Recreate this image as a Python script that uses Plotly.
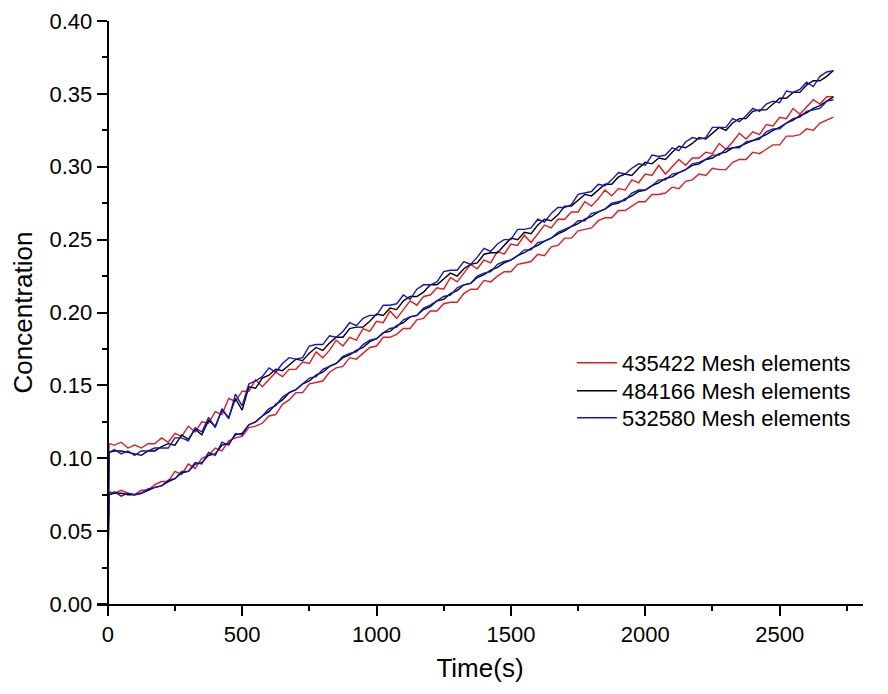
import plotly.graph_objects as go

# time grid (s)
times = [0, 5] + list(range(25, 2701, 25))

# upper monitoring curves
upper_435422 = [
    0.060, 0.110, 0.109, 0.111, 0.107, 0.109, 0.107, 0.110, 0.110, 0.114,
    0.111, 0.117, 0.115, 0.122, 0.118, 0.125, 0.124, 0.132, 0.130, 0.141,
    0.139, 0.146, 0.146, 0.154, 0.149, 0.154, 0.159, 0.156, 0.161, 0.161,
    0.166, 0.165, 0.173, 0.169, 0.174, 0.181, 0.177, 0.183, 0.181, 0.189,
    0.187, 0.194, 0.193, 0.201, 0.196, 0.202, 0.208, 0.205, 0.211, 0.212,
    0.217, 0.216, 0.224, 0.221, 0.227, 0.233, 0.230, 0.236, 0.234, 0.242,
    0.240, 0.247, 0.246, 0.253, 0.248, 0.254, 0.260, 0.258, 0.264, 0.264,
    0.269, 0.269, 0.276, 0.273, 0.278, 0.284, 0.280, 0.285, 0.284, 0.291,
    0.289, 0.295, 0.294, 0.301, 0.295, 0.300, 0.305, 0.301, 0.306, 0.306,
    0.310, 0.309, 0.316, 0.312, 0.317, 0.323, 0.319, 0.324, 0.322, 0.329,
    0.328, 0.334, 0.333, 0.340, 0.336, 0.341, 0.346, 0.343, 0.348, 0.348,
]
upper_484166 = [
    0.030, 0.104, 0.105, 0.105, 0.104, 0.103, 0.102, 0.105, 0.105, 0.108,
    0.110, 0.109, 0.116, 0.113, 0.120, 0.116, 0.126, 0.122, 0.133, 0.128,
    0.141, 0.133, 0.149, 0.148, 0.155, 0.157, 0.161, 0.160, 0.164, 0.168,
    0.167, 0.172, 0.176, 0.174, 0.179, 0.183, 0.183, 0.189, 0.190, 0.190,
    0.194, 0.199, 0.198, 0.203, 0.202, 0.208, 0.211, 0.211, 0.214, 0.219,
    0.219, 0.223, 0.227, 0.225, 0.230, 0.233, 0.234, 0.240, 0.241, 0.241,
    0.246, 0.251, 0.250, 0.255, 0.254, 0.260, 0.264, 0.263, 0.267, 0.273,
    0.273, 0.277, 0.281, 0.280, 0.284, 0.288, 0.288, 0.293, 0.295, 0.294,
    0.299, 0.303, 0.302, 0.306, 0.305, 0.310, 0.314, 0.313, 0.316, 0.320,
    0.319, 0.323, 0.327, 0.325, 0.330, 0.333, 0.333, 0.338, 0.339, 0.339,
    0.343, 0.347, 0.347, 0.351, 0.351, 0.356, 0.359, 0.359, 0.362, 0.366,
]
upper_532580 = [
    0.018, 0.104, 0.106, 0.103, 0.105, 0.102, 0.105, 0.105, 0.107, 0.107,
    0.107, 0.114, 0.114, 0.112, 0.121, 0.118, 0.128, 0.121, 0.134, 0.127,
    0.144, 0.136, 0.151, 0.153, 0.156, 0.162, 0.159, 0.165, 0.169, 0.168,
    0.169, 0.177, 0.178, 0.178, 0.184, 0.183, 0.187, 0.193, 0.191, 0.196,
    0.198, 0.198, 0.205, 0.205, 0.206, 0.212, 0.209, 0.216, 0.219, 0.219,
    0.221, 0.228, 0.229, 0.229, 0.235, 0.233, 0.238, 0.244, 0.242, 0.247,
    0.250, 0.250, 0.257, 0.257, 0.258, 0.264, 0.262, 0.268, 0.272, 0.272,
    0.274, 0.281, 0.282, 0.283, 0.288, 0.287, 0.291, 0.296, 0.295, 0.299,
    0.302, 0.301, 0.308, 0.307, 0.308, 0.313, 0.311, 0.317, 0.320, 0.319,
    0.320, 0.327, 0.327, 0.327, 0.333, 0.331, 0.335, 0.340, 0.338, 0.343,
    0.345, 0.344, 0.352, 0.351, 0.353, 0.358, 0.355, 0.362, 0.365, 0.366,
]

# lower monitoring curves
lower_435422 = [
    0.040, 0.077, 0.076, 0.078, 0.076, 0.075, 0.078, 0.078, 0.082, 0.084,
    0.084, 0.091, 0.089, 0.096, 0.093, 0.100, 0.102, 0.107, 0.105, 0.112,
    0.114, 0.115, 0.121, 0.122, 0.124, 0.129, 0.130, 0.137, 0.140, 0.145,
    0.145, 0.151, 0.152, 0.153, 0.159, 0.162, 0.163, 0.169, 0.168, 0.172,
    0.176, 0.177, 0.183, 0.183, 0.185, 0.189, 0.189, 0.195, 0.196, 0.201,
    0.201, 0.206, 0.207, 0.207, 0.213, 0.216, 0.216, 0.222, 0.221, 0.225,
    0.228, 0.228, 0.233, 0.234, 0.235, 0.240, 0.239, 0.245, 0.246, 0.251,
    0.251, 0.256, 0.257, 0.258, 0.263, 0.265, 0.265, 0.270, 0.270, 0.273,
    0.276, 0.276, 0.281, 0.281, 0.282, 0.286, 0.285, 0.290, 0.291, 0.295,
    0.294, 0.299, 0.298, 0.298, 0.303, 0.305, 0.305, 0.310, 0.309, 0.312,
    0.315, 0.315, 0.321, 0.321, 0.322, 0.326, 0.325, 0.330, 0.332, 0.334,
]
lower_484166 = [
    0.020, 0.075, 0.076, 0.076, 0.075, 0.075, 0.076, 0.078, 0.080, 0.081,
    0.084, 0.086, 0.090, 0.091, 0.096, 0.097, 0.102, 0.103, 0.109, 0.110,
    0.116, 0.117, 0.123, 0.125, 0.129, 0.132, 0.137, 0.140, 0.145, 0.147,
    0.151, 0.153, 0.157, 0.159, 0.163, 0.165, 0.169, 0.171, 0.174, 0.176,
    0.180, 0.182, 0.186, 0.187, 0.191, 0.193, 0.197, 0.198, 0.202, 0.204,
    0.208, 0.209, 0.213, 0.215, 0.219, 0.220, 0.224, 0.226, 0.229, 0.231,
    0.234, 0.236, 0.239, 0.241, 0.244, 0.246, 0.249, 0.251, 0.254, 0.256,
    0.259, 0.261, 0.264, 0.266, 0.269, 0.271, 0.274, 0.275, 0.278, 0.280,
    0.283, 0.284, 0.287, 0.289, 0.292, 0.293, 0.296, 0.298, 0.301, 0.302,
    0.305, 0.306, 0.309, 0.310, 0.313, 0.314, 0.316, 0.318, 0.320, 0.322,
    0.325, 0.327, 0.330, 0.332, 0.335, 0.337, 0.340, 0.342, 0.345, 0.348,
]
lower_532580 = [
    0.015, 0.075, 0.077, 0.074, 0.076, 0.075, 0.076, 0.079, 0.080, 0.081,
    0.085, 0.086, 0.091, 0.091, 0.097, 0.096, 0.104, 0.102, 0.111, 0.109,
    0.117, 0.116, 0.123, 0.125, 0.129, 0.134, 0.136, 0.142, 0.145, 0.147,
    0.151, 0.155, 0.156, 0.161, 0.163, 0.165, 0.170, 0.172, 0.173, 0.178,
    0.181, 0.182, 0.186, 0.189, 0.190, 0.195, 0.197, 0.198, 0.203, 0.205,
    0.208, 0.211, 0.212, 0.217, 0.219, 0.220, 0.225, 0.227, 0.228, 0.233,
    0.235, 0.236, 0.239, 0.243, 0.243, 0.248, 0.249, 0.251, 0.255, 0.257,
    0.259, 0.263, 0.263, 0.268, 0.269, 0.271, 0.275, 0.276, 0.277, 0.282,
    0.284, 0.284, 0.287, 0.291, 0.291, 0.295, 0.296, 0.298, 0.302, 0.303,
    0.305, 0.308, 0.308, 0.312, 0.313, 0.313, 0.317, 0.318, 0.319, 0.324,
    0.326, 0.326, 0.330, 0.333, 0.334, 0.338, 0.339, 0.340, 0.345, 0.346,
]

series_names = ["435422 Mesh elements", "484166 Mesh elements", "532580 Mesh elements"]
series_colors = ["#e8191e", "#000000", "#1414d0"]
upper_curves = [upper_435422, upper_484166, upper_532580]
lower_curves = [lower_435422, lower_484166, lower_532580]
legend_ids = ["legend", "legend2", "legend3"]
legend_y = [0.4134, 0.3654, 0.3190]

FONT = "Liberation Sans, Arial, sans-serif"

fig = go.Figure()
for name, color, up, lo, lg in zip(series_names, series_colors, upper_curves, lower_curves, legend_ids):
    fig.add_trace(go.Scatter(x=times, y=up, mode="lines", name=name, legendgroup=name, legend=lg,
                             line=dict(color=color, width=1.4), showlegend=True))
    fig.add_trace(go.Scatter(x=times, y=lo, mode="lines", name=name, legendgroup=name, legend=lg,
                             line=dict(color=color, width=1.4), showlegend=False))

W, H = 888, 694
L, R, T, B = 97, 25, 21, 90
x_min, x_max = -40, 2810
y_pos = (0 - x_min) / (x_max - x_min)

legend_common = dict(x=0.62, xanchor="left", yanchor="middle", bgcolor="rgba(0,0,0,0)",
                     font=dict(size=22, family=FONT, color="black"), itemwidth=40)
legends = {lg: dict(legend_common, y=yy) for lg, yy in zip(legend_ids, legend_y)}

fig.update_layout(
    width=W, height=H,
    margin=dict(l=L, r=R, t=T, b=B, autoexpand=False),
    paper_bgcolor="white", plot_bgcolor="white",
    font=dict(family=FONT, color="black", size=22),
    showlegend=True,
    **legends,
    xaxis=dict(range=[x_min, x_max], showgrid=False, zeroline=False,
               showline=True, linecolor="black", linewidth=2,
               ticks="outside", ticklen=10, tickwidth=2, tickcolor="black",
               tick0=0, dtick=500, tickfont=dict(size=22),
               minor=dict(ticks="outside", ticklen=5, tickwidth=2, tickcolor="black", dtick=250, tick0=0, showgrid=False),
               title=dict(text="Time(s)", font=dict(size=26), standoff=12)),
    yaxis=dict(range=[0, 0.40], showgrid=False, zeroline=False,
               anchor="free", position=y_pos,
               showline=True, linecolor="black", linewidth=2,
               ticks="outside", ticklen=10, tickwidth=2, tickcolor="black",
               tick0=0, dtick=0.05, tickformat=".2f", tickfont=dict(size=22),
               minor=dict(ticks="outside", ticklen=5, tickwidth=2, tickcolor="black", dtick=0.025, tick0=0, showgrid=False),
               title=dict(text="Concentration", font=dict(size=26), standoff=8)),
)

fig.write_html("out.html")
